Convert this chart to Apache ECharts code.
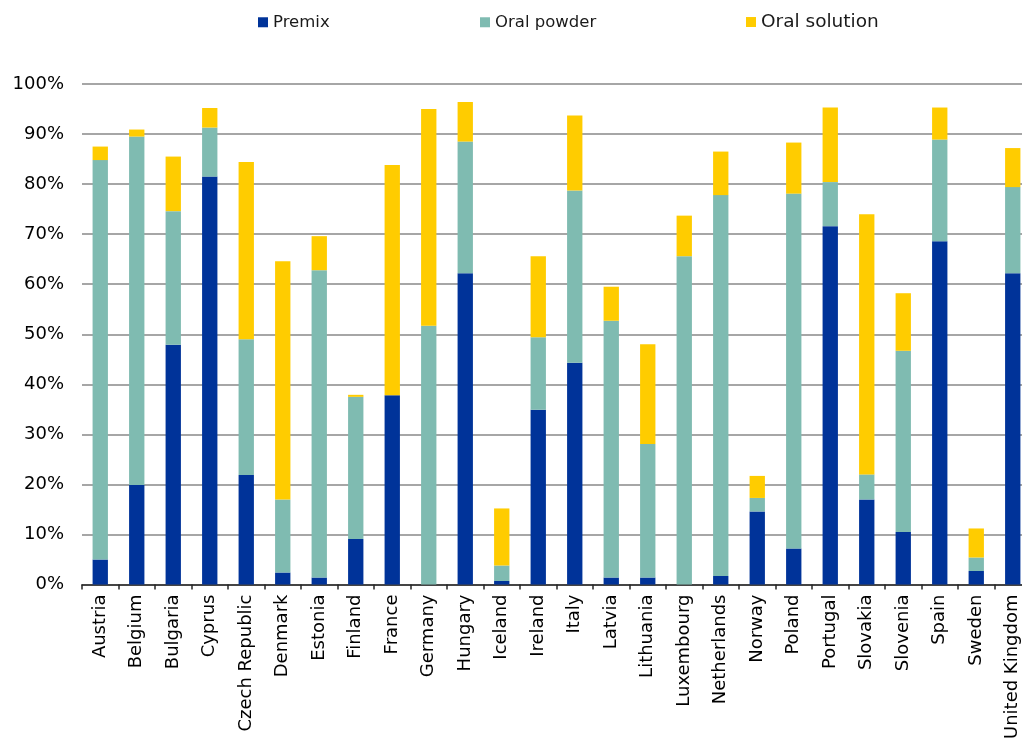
<!DOCTYPE html>
<html>
<head>
<meta charset="utf-8">
<title>Premix, oral powder and oral solution shares by country</title>
<script src="https://cdn.jsdelivr.net/npm/echarts@6/dist/echarts.min.js"></script>
<style>
  html, body { margin: 0; padding: 0; background: #ffffff; overflow: hidden; }
  /* the plot runs slightly past the right edge of the window */
  #chart { width: 1040px; height: 742px; }
</style>
</head>
<body>
<div id="chart"></div>
<script>
// Countries along the x axis
const countries = [
  'Austria', 'Belgium', 'Bulgaria', 'Cyprus', 'Czech Republic', 'Denmark',
  'Estonia', 'Finland', 'France', 'Germany', 'Hungary', 'Iceland', 'Ireland',
  'Italy', 'Latvia', 'Lithuania', 'Luxembourg', 'Netherlands', 'Norway',
  'Poland', 'Portugal', 'Slovakia', 'Slovenia', 'Spain', 'Sweden', 'United Kingdom'
];

// Share (%) of each pharmaceutical form, stacked per country
const premix = [
  5.0, 19.9, 47.9, 81.5, 21.9, 2.4,
  1.4, 9.1, 37.8, 0, 62.2, 0.7, 34.9,
  44.3, 1.4, 1.4, 0, 1.7, 14.6,
  7.2, 71.6, 17.0, 10.5, 68.6, 2.7, 62.2
];
const oralPowder = [
  79.8, 69.6, 26.7, 9.8, 27.1, 14.6,
  61.4, 28.4, 0, 51.7, 26.3, 3.1, 14.5,
  34.4, 51.3, 26.7, 65.6, 76.1, 2.7,
  70.9, 8.8, 5.0, 36.2, 20.3, 2.7, 17.2
];
const oralSolution = [
  2.7, 1.4, 10.9, 3.9, 35.4, 47.6,
  6.8, 0.4, 46.0, 43.3, 7.9, 11.4, 16.2,
  15.0, 6.8, 19.9, 8.1, 8.7, 4.4,
  10.2, 14.9, 52.0, 11.5, 6.4, 5.8, 7.8
];

// Y axis: 0% to 100% in steps of 10
const yMin = 0, yMax = 100, yStep = 10;

const FONT = "'DejaVu Sans', Verdana, sans-serif";
const COLORS = { premix: '#003399', powder: '#7fbbb1', solution: '#ffcc00' };

const chart = echarts.init(document.getElementById('chart'), null, { renderer: 'canvas' });

function legendAt(name, left, size) {
  return {
    left: left,
    top: 24 - size * 0.62,
    orient: 'horizontal',
    icon: 'rect',
    itemWidth: 10,
    itemHeight: 10,
    padding: 0,
    selectedMode: false,
    data: [{ name: name, textStyle: { fontSize: size } }],
    textStyle: { fontFamily: FONT, color: '#1a1a1a', fontSize: size }
  };
}

const barCommon = {
  type: 'bar',
  stack: 'forms',
  barWidth: '42%',
  emphasis: { disabled: true }
};

chart.setOption({
  animation: false,
  backgroundColor: '#ffffff',
  legend: [
    legendAt('Premix', 258, 16.5),
    legendAt('Oral powder', 480, 16.5),
    legendAt('Oral solution', 746, 18.5)
  ],
  grid: { left: 82, top: 84, width: 949, height: 503, containLabel: false },
  xAxis: {
    type: 'category',
    data: countries,
    boundaryGap: true,
    axisLine: { show: true, lineStyle: { color: '#262626', width: 1.5 } },
    axisTick: { show: true, length: 5, lineStyle: { color: '#262626', width: 1.5 } },
    axisLabel: {
      interval: 0,
      rotate: 90,
      margin: 10,
      fontFamily: FONT,
      fontSize: 18,
      color: '#000000'
    },
    splitLine: { show: false }
  },
  yAxis: {
    type: 'value',
    min: yMin,
    max: yMax,
    interval: yStep,
    axisLine: { show: false },
    axisTick: { show: false },
    axisLabel: {
      formatter: '{value}%',
      margin: 18,
      fontFamily: FONT,
      fontSize: 18,
      color: '#000000'
    },
    splitLine: { show: true, lineStyle: { color: '#a6a6a6', width: 2 } }
  },
  series: [
    Object.assign({ name: 'Premix', data: premix, itemStyle: { color: COLORS.premix } }, barCommon),
    Object.assign({ name: 'Oral powder', data: oralPowder, itemStyle: { color: COLORS.powder } }, barCommon),
    Object.assign({ name: 'Oral solution', data: oralSolution, itemStyle: { color: COLORS.solution } }, barCommon)
  ]
});
</script>
</body>
</html>
